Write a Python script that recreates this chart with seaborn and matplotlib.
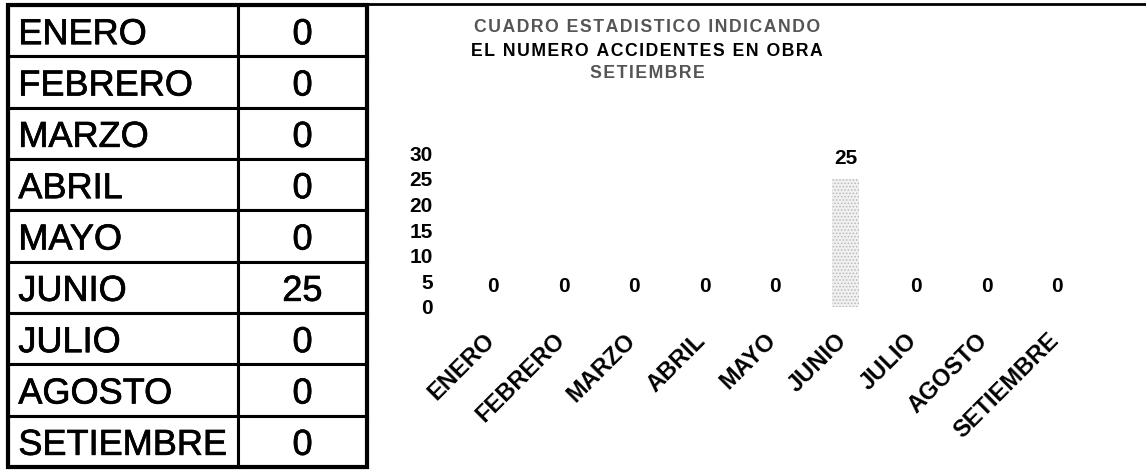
import matplotlib
matplotlib.use("Agg")
import matplotlib.pyplot as plt
from matplotlib.table import Table
from matplotlib.patches import Rectangle
from matplotlib.transforms import Affine2D, ScaledTranslation
import matplotlib.patheffects as pe
import seaborn as sns
import pandas as pd

# Monthly accident counts
meses = ["ENERO", "FEBRERO", "MARZO", "ABRIL", "MAYO", "JUNIO", "JULIO", "AGOSTO", "SETIEMBRE"]
accidentes = [0, 0, 0, 0, 0, 25, 0, 0, 0]
y_ticks = [0, 5, 10, 15, 20, 25, 30]
titulo = ["CUADRO ESTADISTICO INDICANDO", "EL NUMERO ACCIDENTES EN OBRA", "SETIEMBRE"]

sns.set_theme(style="white")
plt.rcParams["font.family"] = ["Liberation Sans", "DejaVu Sans"]
plt.rcParams["hatch.color"] = "#b8b8b8"
plt.rcParams["hatch.linewidth"] = 0.7

W, H = 1146, 470
fig = plt.figure(figsize=(W / 100, H / 100), dpi=100)
fig.patch.set_facecolor("white")


def fx(px):
    return px / W


def fy(py):
    return 1 - py / H


# ---- data table on the left ----
tab_ax = fig.add_axes([0, 0, 1, 1])
tab_ax.set_xlim(0, W)
tab_ax.set_ylim(H, 0)
tab_ax.set_axis_off()

t_left, t_right, t_top, t_bottom = 8, 367, 5, 467
tbl = Table(tab_ax, bbox=[fx(t_left), fy(t_bottom), fx(t_right - t_left), (t_bottom - t_top) / H])
col_w = [230, 129]
heavy = [pe.withStroke(linewidth=0.5, foreground="black")]
for r, (mes, val) in enumerate(zip(meses, accidentes)):
    c0 = tbl.add_cell(r, 0, width=col_w[0], height=1, text=mes, loc="left")
    c1 = tbl.add_cell(r, 1, width=col_w[1], height=1, text=str(val), loc="center")
    for c in (c0, c1):
        c.set_linewidth(2.2)
        c.set_edgecolor("black")
        c.set_facecolor("white")
        txt = c.get_text()
        txt.set_fontsize(26)
        txt.set_color("black")
        txt.set_path_effects(heavy)
        # nudge cell text slightly below the row centre
        txt.set_transform(Affine2D().translate(0, -4))
    c0.PAD = 0.045
tbl.auto_set_font_size(False)
tab_ax.add_table(tbl)
tab_ax.add_patch(Rectangle((t_left, t_top), t_right - t_left, t_bottom - t_top,
                           fill=False, lw=3, edgecolor="black", zorder=5))
# chart frame top edge
tab_ax.plot([t_right, W], [4, 4], color="black", lw=2, solid_capstyle="butt")

# ---- bar chart ----
ax = fig.add_axes([fx(457.75), fy(307), fx(634.5), 154 / H])
df = pd.DataFrame({"mes": meses, "accidentes": accidentes})
sns.barplot(data=df, x="mes", y="accidentes", ax=ax, color="#f1f1f1",
            saturation=1, width=0.37)
for p in ax.patches:
    p.set_hatch(".....")
    p.set_edgecolor("#b8b8b8")
    p.set_linewidth(0)

ax.set_xlim(-0.5, len(meses) - 0.5)
ax.set_ylim(0, 30)
ax.set_yticks(y_ticks)
ax.set_yticklabels([str(v) for v in y_ticks], fontsize=15, fontweight="bold")
ax.set_xticks(range(len(meses)))
ax.set_xticklabels(meses, rotation=45, ha="right", va="top", fontsize=17, fontweight="bold")
ax.tick_params(axis="y", length=0, pad=18, colors="black")
ax.tick_params(axis="x", length=0, pad=18, colors="black")
shift = ScaledTranslation(6 / 100, 3 / 100, fig.dpi_scale_trans)
for lab in ax.get_xticklabels():
    lab.set_transform(lab.get_transform() + shift)
ax.set_xlabel("")
ax.set_ylabel("")
for s in ax.spines.values():
    s.set_visible(False)
ax.set_facecolor("none")

ax.bar_label(ax.containers[0], labels=[str(v) for v in accidentes], padding=8,
             fontsize=15, fontweight="bold", color="black")

# ---- title ----
title_y = [28, 51, 73]
title_col = ["#555555", "black", "#555555"]
for line, yy, col in zip(titulo, title_y, title_col):
    fig.text(fx(647), fy(yy), "\u200a".join(line), ha="center", va="center",
             fontsize=12.7, fontweight="bold", color=col)

fig.savefig("out.png", dpi=100)
